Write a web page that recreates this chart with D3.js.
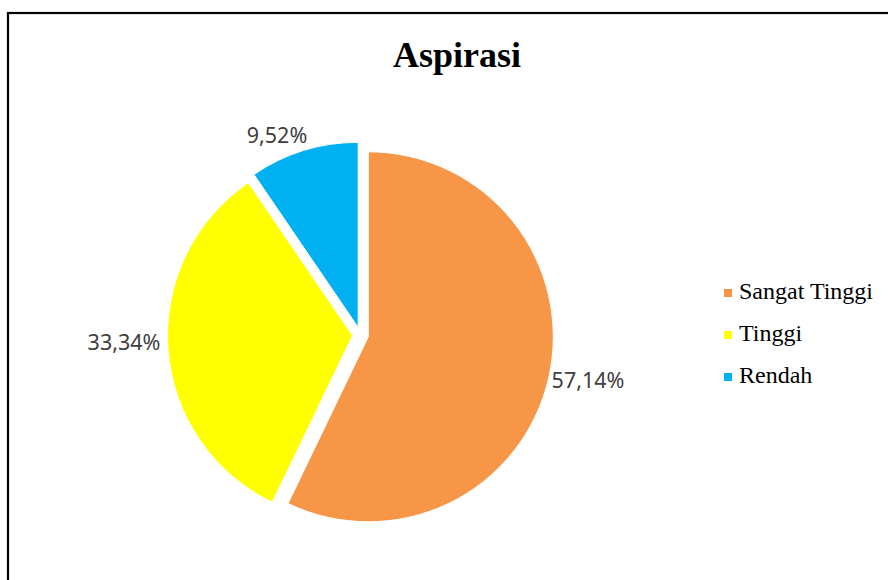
<!DOCTYPE html>
<html>
<head>
<meta charset="utf-8">
<script src="https://cdn.jsdelivr.net/npm/d3@7"></script>
<style>
  html, body { margin: 0; padding: 0; background: #fff; }
  svg { display: block; }
</style>
</head>
<body>
<svg id="chart" width="888" height="580"></svg>
<script>
const title = "Aspirasi";
const categories = ["Sangat Tinggi", "Tinggi", "Rendah"];
const values = [57.14, 33.34, 9.52];
const labels = ["57,14%", "33,34%", "9,52%"];
const colors = ["#F79646", "#FFFF00", "#00B0F0"];

const svg = d3.select("#chart");

// chart frame
svg.append("rect")
  .attr("x", 8).attr("y", 13)
  .attr("width", 900).attr("height", 600)
  .attr("fill", "none").attr("stroke", "#000").attr("stroke-width", 2.2);

svg.append("text")
  .attr("x", 457).attr("y", 67)
  .attr("text-anchor", "middle")
  .attr("font-family", "'Liberation Serif', 'Times New Roman', serif")
  .attr("font-weight", "bold")
  .attr("font-size", 36)
  .attr("fill", "#000")
  .text(title);

const cx = 360.5, cy = 335, r = 185, explode = 8;
const data = categories.map((c, i) => ({ cat: c, value: values[i], label: labels[i], color: colors[i] }));

const pie = d3.pie().sort(null).value(d => d.value).startAngle(0).endAngle(2 * Math.PI);
const arcs = pie(data);
const arc = d3.arc().innerRadius(0).outerRadius(r);

const g = svg.append("g").attr("transform", `translate(${cx},${cy})`);

g.selectAll("path.slice")
  .data(arcs)
  .join("path")
  .attr("class", "slice")
  .attr("transform", d => {
    const a = (d.startAngle + d.endAngle) / 2;
    return `translate(${explode * Math.sin(a)},${-explode * Math.cos(a)})`;
  })
  .attr("d", arc)
  .attr("fill", d => d.data.color)
  .attr("stroke", "#fff")
  .attr("stroke-width", 1);

// data label anchor positions (layout only)
const labelPos = [
  { x: 588, y: 388 },
  { x: 124, y: 350 },
  { x: 277, y: 143 }
];
g.selectAll("text.lbl")
  .data(arcs)
  .join("text")
  .attr("class", "lbl")
  .attr("x", (d, i) => labelPos[i].x - cx)
  .attr("y", (d, i) => labelPos[i].y - cy)
  .attr("text-anchor", "middle")
  .attr("font-family", "'Noto Sans', 'Open Sans', sans-serif")
  .attr("font-size", 21.5)
  .attr("fill", "#404040")
  .text(d => d.data.label);

// legend
const legend = svg.append("g").attr("transform", "translate(724,0)");
const rowY = d3.scalePoint().domain(categories).range([299, 383]);
categories.forEach((c, i) => {
  const y = rowY(c);
  legend.append("rect")
    .attr("x", 0).attr("y", y - 10)
    .attr("width", 8).attr("height", 8)
    .attr("fill", colors[i]);
  legend.append("text")
    .attr("x", 15).attr("y", y)
    .attr("font-family", "'Liberation Serif', 'Times New Roman', serif")
    .attr("font-size", 24)
    .attr("fill", "#000")
    .text(c);
});
</script>
</body>
</html>
